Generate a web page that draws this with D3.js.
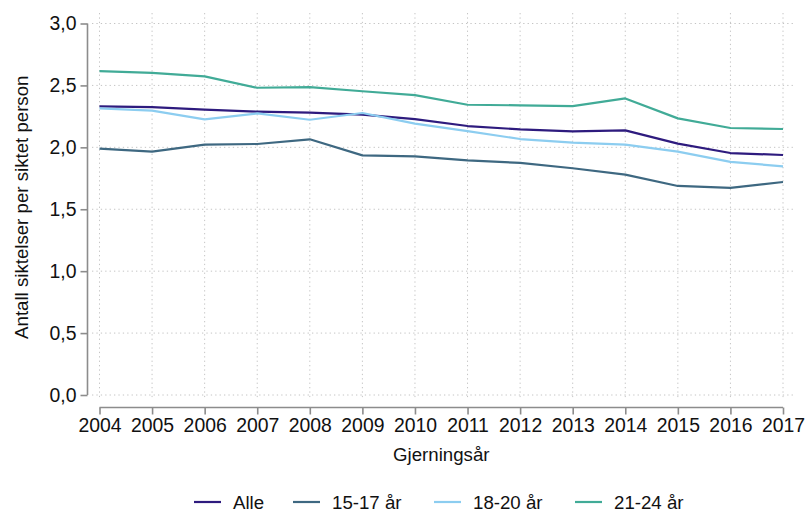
<!DOCTYPE html>
<html>
<head>
<meta charset="utf-8">
<script src="https://cdn.jsdelivr.net/npm/d3@7"></script>
<style>
  body { margin: 0; background: #fff; }
  text { font-family: "Liberation Sans", Arial, sans-serif; fill: #111; }
</style>
</head>
<body>
<div id="chart"></div>
<script>
var years = [2004, 2005, 2006, 2007, 2008, 2009, 2010, 2011, 2012, 2013, 2014, 2015, 2016, 2017];
var seriesNames = ["Alle", "15-17 år", "18-20 år", "21-24 år"];
var alle = [2.33, 2.325, 2.305, 2.288, 2.28, 2.264, 2.228, 2.172, 2.145, 2.129, 2.137, 2.03, 1.954, 1.938];
var age1517 = [1.989, 1.965, 2.022, 2.027, 2.065, 1.935, 1.927, 1.895, 1.874, 1.831, 1.78, 1.688, 1.672, 1.72];
var age1820 = [2.315, 2.296, 2.226, 2.274, 2.223, 2.277, 2.191, 2.131, 2.067, 2.038, 2.022, 1.965, 1.882, 1.847];
var age2124 = [2.615, 2.602, 2.573, 2.481, 2.486, 2.453, 2.422, 2.344, 2.339, 2.333, 2.395, 2.234, 2.156, 2.148];
var yTicks = [0, 0.5, 1, 1.5, 2, 2.5, 3];
var colors = ["#2e1b7e", "#3e6881", "#8ccdf0", "#41ab97"];

var svgWidth = 806, svgHeight = 511;
var fontSize = "18.67px";
var tickFontSize = "19.4px";

var svg = d3.select("#chart").append("svg")
  .attr("width", svgWidth)
  .attr("height", svgHeight);

// scales
var x = d3.scaleLinear().domain([2004, 2017]).range([99.5, 783]);
var y = d3.scaleLinear().domain([0, 3]).range([395, 23.5]);

// panel extents (slightly wider than data range)
var panel = { left: 92, right: 793, top: 13, bottom: 400 };

// grid
var grid = svg.append("g");
grid.selectAll(".hg").data(yTicks).enter().append("line")
  .attr("x1", panel.left).attr("x2", panel.right)
  .attr("y1", d => y(d)).attr("y2", d => y(d))
  .attr("stroke", "#c4c4c4").attr("stroke-width", 1)
  .attr("stroke-dasharray", "1.3,3.1");
grid.selectAll(".vg").data(years).enter().append("line")
  .attr("x1", d => x(d)).attr("x2", d => x(d))
  .attr("y1", panel.top).attr("y2", panel.bottom)
  .attr("stroke", "#c4c4c4").attr("stroke-width", 1)
  .attr("stroke-dasharray", "1.3,3.1");

// axes
var leftAxis = d3.axisLeft(y).tickValues(yTicks).tickSize(7).tickPadding(4)
  .tickFormat(d => d3.format(".1f")(d).replace(".", ","));
var gy = svg.append("g").attr("transform", "translate(87.5,0)").call(leftAxis);
var bottomAxis = d3.axisBottom(x).tickValues(years).tickSize(7).tickPadding(4)
  .tickFormat(d3.format("d"));
var gx = svg.append("g").attr("transform", "translate(0,407.5)").call(bottomAxis);
[gx, gy].forEach(function(g) {
  g.select(".domain").attr("stroke", "#8c8c8c").attr("stroke-width", 1.6);
  g.selectAll(".tick line").attr("stroke", "#8c8c8c").attr("stroke-width", 1.6);
  g.selectAll(".tick text").style("font-size", tickFontSize).attr("fill", "#111")
    .style("font-family", "'Liberation Sans', Arial, sans-serif");
});
// remove outer tick stubs of the domain paths
gy.select(".domain").attr("d", "M0," + y(3) + "V" + y(0));
gx.select(".domain").attr("d", "M" + x(2004) + ",0H" + x(2017));

// axis titles
svg.append("text")
  .attr("x", (x(2004) + x(2017)) / 2).attr("y", 461)
  .attr("text-anchor", "middle").style("font-size", fontSize)
  .text("Gjerningsår");
svg.append("text")
  .attr("transform", "translate(28," + ((y(0) + y(3)) / 2 - 2) + ") rotate(-90)")
  .attr("text-anchor", "middle").style("font-size", fontSize)
  .text("Antall siktelser per siktet person");

// lines
var allSeries = [alle, age1517, age1820, age2124];
var line = d3.line().x((d, i) => x(years[i])).y(d => y(d));
svg.append("g").selectAll("path").data(allSeries).enter().append("path")
  .attr("d", line)
  .attr("fill", "none")
  .attr("stroke", (d, i) => colors[i])
  .attr("stroke-width", 2.2)
  .attr("stroke-linejoin", "round");

// legend
var legendX = [194, 293, 434, 575];
var legend = svg.append("g").selectAll("g").data(seriesNames).enter().append("g")
  .attr("transform", (d, i) => "translate(" + legendX[i] + ",502)");
legend.append("line")
  .attr("x1", 0).attr("x2", 27).attr("y1", 0).attr("y2", 0)
  .attr("stroke", (d, i) => colors[i]).attr("stroke-width", 2.2);
legend.append("text")
  .attr("x", 39).attr("y", 6.5)
  .style("font-size", fontSize)
  .text(d => d);
</script>
</body>
</html>
